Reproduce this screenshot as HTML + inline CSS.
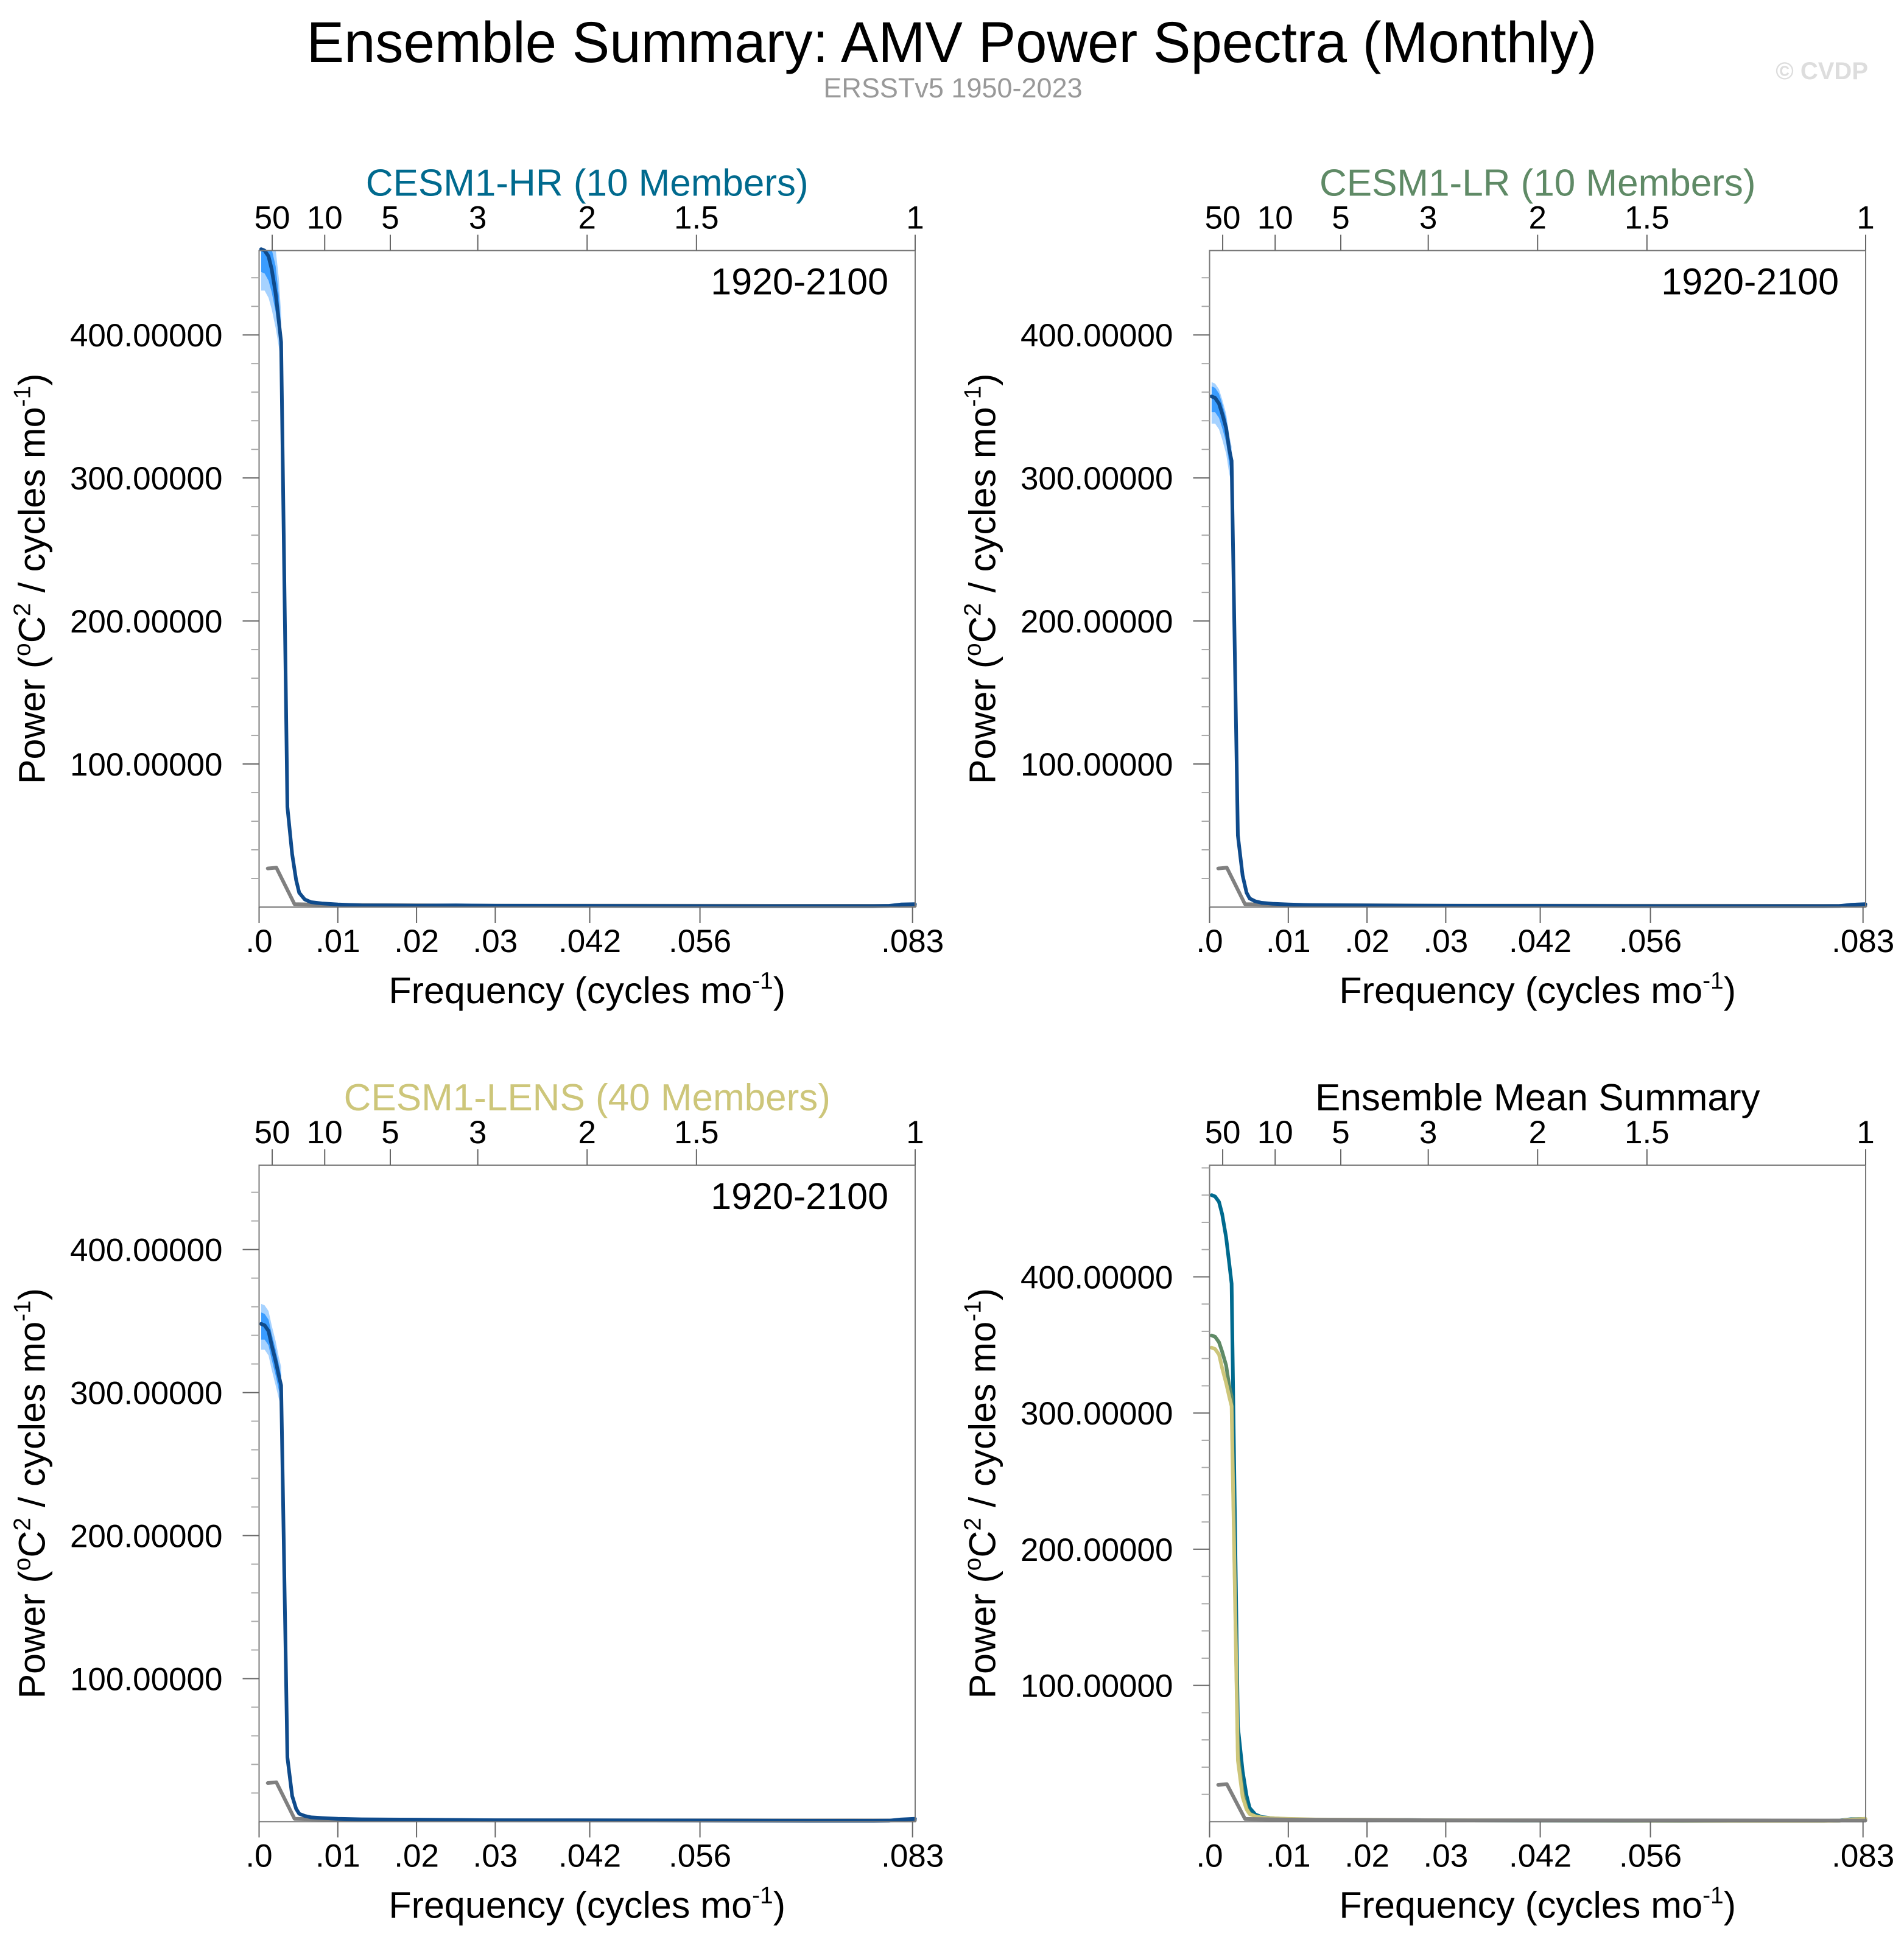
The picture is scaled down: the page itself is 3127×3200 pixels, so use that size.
<!DOCTYPE html>
<html><head><meta charset="utf-8"><style>
html,body{margin:0;padding:0;background:#fff;}
svg{display:block;font-family:"Liberation Sans",Arial,sans-serif;}
</style></head><body>
<svg id="chart" width="3127" height="3200" viewBox="0 0 3127 3200" xmlns="http://www.w3.org/2000/svg">
<rect width="3127" height="3200" fill="#fff"/>
<text x="1563" y="102" font-size="95" text-anchor="middle" textLength="2119" lengthAdjust="spacingAndGlyphs" fill="#000">Ensemble Summary: AMV Power Spectra (Monthly)</text>
<text x="1565" y="160" font-size="45" text-anchor="middle" fill="#999">ERSSTv5 1950-2023</text>
<text x="3068" y="130" font-size="40" font-weight="bold" text-anchor="end" fill="#ddd">© CVDP</text>
<g id="panels"></g>
</svg>
<script>
// ---- data ----
const bottomTickVals = [0, 0.01, 0.02, 0.03, 0.042, 0.056, 0.083];
const bottomTickLabels = [".0", ".01", ".02", ".03", ".042", ".056", ".083"];
const topPeriods = [50, 10, 5, 3, 2, 1.5, 1];
const yMajorVals = [100, 200, 300, 400];
const yMajorLabels = ["100.00000", "200.00000", "300.00000", "400.00000"];

const freqModel = [0.00026,0.0007,0.0012,0.0016,0.0021,0.0025,0.0028,0.0036,0.0042,0.0047,0.0051,0.0058,0.0066,0.0080,0.0100,0.0130,0.020,0.025,0.030,0.040,0.050,0.060,0.070,0.078,0.080,0.0815,0.0833];
const powHR   = [460,459,455,446,429,410,395,70,37,19,10,5.3,3.4,2.5,1.8,1.2,1.0,1.2,0.9,0.8,0.7,0.6,0.6,0.6,0.8,1.8,2.0];
const powLR   = [357,356,352,345,335,320,312,50,22,10,6,4,3,2.3,1.8,1.3,1.1,1.0,0.9,0.8,0.7,0.6,0.6,0.6,0.7,1.6,2.0];
const powLENS = [348,347,343,333,322,312,305,45,18,9,5.5,4,3,2.5,2,1.6,1.4,1.2,1.0,0.9,0.8,0.7,0.6,0.6,0.7,1.5,2.0];

const bandFreq = [0.00026,0.0007,0.0012,0.0016,0.0021,0.0025,0.0028,0.0036];
const hrOuterLo = [431,431,426,418,405,392,380,60];
const hrOuterHi = [475,475,472,468,460,440,415,85];
const hrInnerLo = [444,443,438,430,416,400,388,64];
const hrInnerHi = [470,470,466,460,448,428,405,78];
const lrOuterLo = [338,338,334,327,317,303,296,42];
const lrOuterHi = [367,366,362,355,345,330,322,58];
const lrInnerLo = [346,346,342,335,325,310,303,46];
const lrInnerHi = [364,363,359,352,342,327,318,54];
const leOuterLo = [330,330,326,316,305,296,290,38];
const leOuterHi = [362,361,357,347,336,325,318,52];
const leInnerLo = [337,337,333,323,312,302,297,41];
const leInnerHi = [356,355,351,341,330,320,312,49];

const freqObs = [0.0011,0.0022,0.0045,0.010,0.030,0.060,0.0833];
const powObs  = [27,27.5,2,1.5,1.0,0.9,0.8];

// ---- drawing ----
const NS = "http://www.w3.org/2000/svg";
const root = document.getElementById("panels");
const FMAX = 1/12;
function mk(tag, attrs, parent){ const e=document.createElementNS(NS,tag); for(const k in attrs) e.setAttribute(k,attrs[k]); (parent||root).appendChild(e); return e; }

const panels = [
 {L:425.5, T:411.6, name:"cesm1-hr", title:"CESM1-HR (10 Members)", color:"#006a8e", ymax:459, kind:"single", pow:powHR, bands:[hrOuterLo,hrOuterHi,hrInnerLo,hrInnerHi]},
 {L:1986.5, T:411.6, name:"cesm1-lr", title:"CESM1-LR (10 Members)", color:"#5f8a66", ymax:459, kind:"single", pow:powLR, bands:[lrOuterLo,lrOuterHi,lrInnerLo,lrInnerHi]},
 {L:425.5, T:1914, name:"cesm1-lens", title:"CESM1-LENS (40 Members)", color:"#cdc67a", ymax:459, kind:"single", pow:powLENS, bands:[leOuterLo,leOuterHi,leInnerLo,leInnerHi]},
 {L:1986.5, T:1914, name:"ensemble-mean", title:"Ensemble Mean Summary", color:"#000", ymax:482, kind:"summary"}
];
const W = 1077.5, H = 1078.4;

panels.forEach((p, pi) => {
  const g = mk("g", {});
  
  
  const B = p.T + H, R = p.L + W;
  const x = f => p.L + f / FMAX * W;
  const y = v => B - v / p.ymax * H;
  const cid = "clip" + pi;
  const cp = mk("clipPath", {id: cid}, g);
  mk("rect", {x: p.L, y: p.T, width: W, height: H}, cp);

  const t = mk("text", {x: (p.L+R)/2, y: p.T - 90, "font-size": 62, "text-anchor": "middle", fill: p.color}, g);
  t.textContent = p.title;
  
  

  const lineOf = (fs, vs) => fs.map((f,i)=>(i?"L":"M")+x(f).toFixed(1)+","+y(vs[i]).toFixed(1)).join("");
  const bandOf = (lo, hi) => lineOf(bandFreq, hi) + bandFreq.slice().reverse().map((f,j)=>{const i=bandFreq.length-1-j; return "L"+x(f).toFixed(1)+","+y(lo[i]).toFixed(1);}).join("") + "Z";
  if (p.kind === "single") {
    const ob = mk("path", {d: bandOf(p.bands[0], p.bands[1]), fill: "#a6d2ff", "clip-path": "url(#"+cid+")"}, g);
    
    
    const ib = mk("path", {d: bandOf(p.bands[2], p.bands[3]), fill: "#3a9cff", "clip-path": "url(#"+cid+")"}, g);
    
    
    const ol = mk("path", {d: lineOf(freqObs, powObs), fill: "none", stroke: "#808080", "stroke-width": 6, "stroke-linejoin": "round", "stroke-linecap": "round"}, g);
    
    
    const ml = mk("path", {d: lineOf(freqModel, p.pow), fill: "none", stroke: "#0f4b8c", "stroke-width": 6, "stroke-linejoin": "round", "stroke-linecap": "round"}, g);
    
    
    const yr = mk("text", {x: R - 44, y: p.T + 72, "font-size": 61, "text-anchor": "end", fill: "#000"}, g);
    yr.textContent = "1920-2100";
    
    
  } else {
    const l1 = mk("path", {d: lineOf(freqModel, powHR), fill:"none", stroke:"#006a8e", "stroke-width":6, "stroke-linejoin":"round", "stroke-linecap":"round"}, g);
    
    
    const l2 = mk("path", {d: lineOf(freqModel, powLR), fill:"none", stroke:"#5f8a66", "stroke-width":6, "stroke-linejoin":"round", "stroke-linecap":"round"}, g);
    
    
    const l3 = mk("path", {d: lineOf(freqModel, powLENS), fill:"none", stroke:"#cdc67a", "stroke-width":6, "stroke-linejoin":"round", "stroke-linecap":"round"}, g);
    
    
    const l4 = mk("path", {d: lineOf(freqObs, powObs), fill:"none", stroke:"#808080", "stroke-width":6, "stroke-linejoin":"round", "stroke-linecap":"round"}, g);
    
    
  }

  const fr = mk("rect", {x: p.L, y: p.T, width: W, height: H, fill: "none", stroke: "#7a7a7a", "stroke-width": 2}, g);
  
  

  for (let v = 20; v < p.ymax; v += 20) {
    const major = v % 100 === 0;
    mk("line", {x1: p.L - (major?27:13), x2: p.L, y1: y(v), y2: y(v), stroke: major?"#666":"#aaa", "stroke-width": 2}, g);
  }
  yMajorVals.forEach((v,i) => {
    const tl = mk("text", {x: p.L - 60, y: y(v) + 19, "font-size": 53, "text-anchor": "end", fill: "#000"}, g);
    tl.textContent = yMajorLabels[i];
    
    
  });
  bottomTickVals.forEach((f,i) => {
    mk("line", {x1: x(f), x2: x(f), y1: B, y2: B + 26, stroke: "#666", "stroke-width": 2}, g);
    const tl = mk("text", {x: x(f), y: B + 74, "font-size": 53, "text-anchor": "middle", fill: "#000"}, g);
    tl.textContent = bottomTickLabels[i];
    
    
  });
  topPeriods.forEach(per => {
    const f = 1/(12*per);
    mk("line", {x1: x(f), x2: x(f), y1: p.T, y2: p.T - 26, stroke: "#666", "stroke-width": 2}, g);
    const tl = mk("text", {x: x(f), y: p.T - 36, "font-size": 53, "text-anchor": "middle", fill: "#000"}, g);
    tl.textContent = String(per);
    
    
  });
  const xt = mk("text", {x: (p.L+R)/2, y: B + 158, "font-size": 61, "text-anchor": "middle", fill: "#000"}, g);
  xt.innerHTML = 'Frequency (cycles mo<tspan dy="-24" font-size="39">-1</tspan><tspan dy="24">)</tspan>';
  
  
  const cy = (p.T + B)/2;
  const yt = mk("text", {x: 0, y: 0, "font-size": 61, "text-anchor": "middle", fill: "#000", transform: "translate(" + (p.L - 352) + "," + cy + ") rotate(-90)"}, g);
  yt.innerHTML = 'Power (<tspan dy="-24" font-size="39">o</tspan><tspan dy="24">C</tspan><tspan dy="-24" font-size="39">2</tspan><tspan dy="24"> / cycles mo</tspan><tspan dy="-24" font-size="39">-1</tspan><tspan dy="24">)</tspan>';
  
  
});
</script>
</body></html>
